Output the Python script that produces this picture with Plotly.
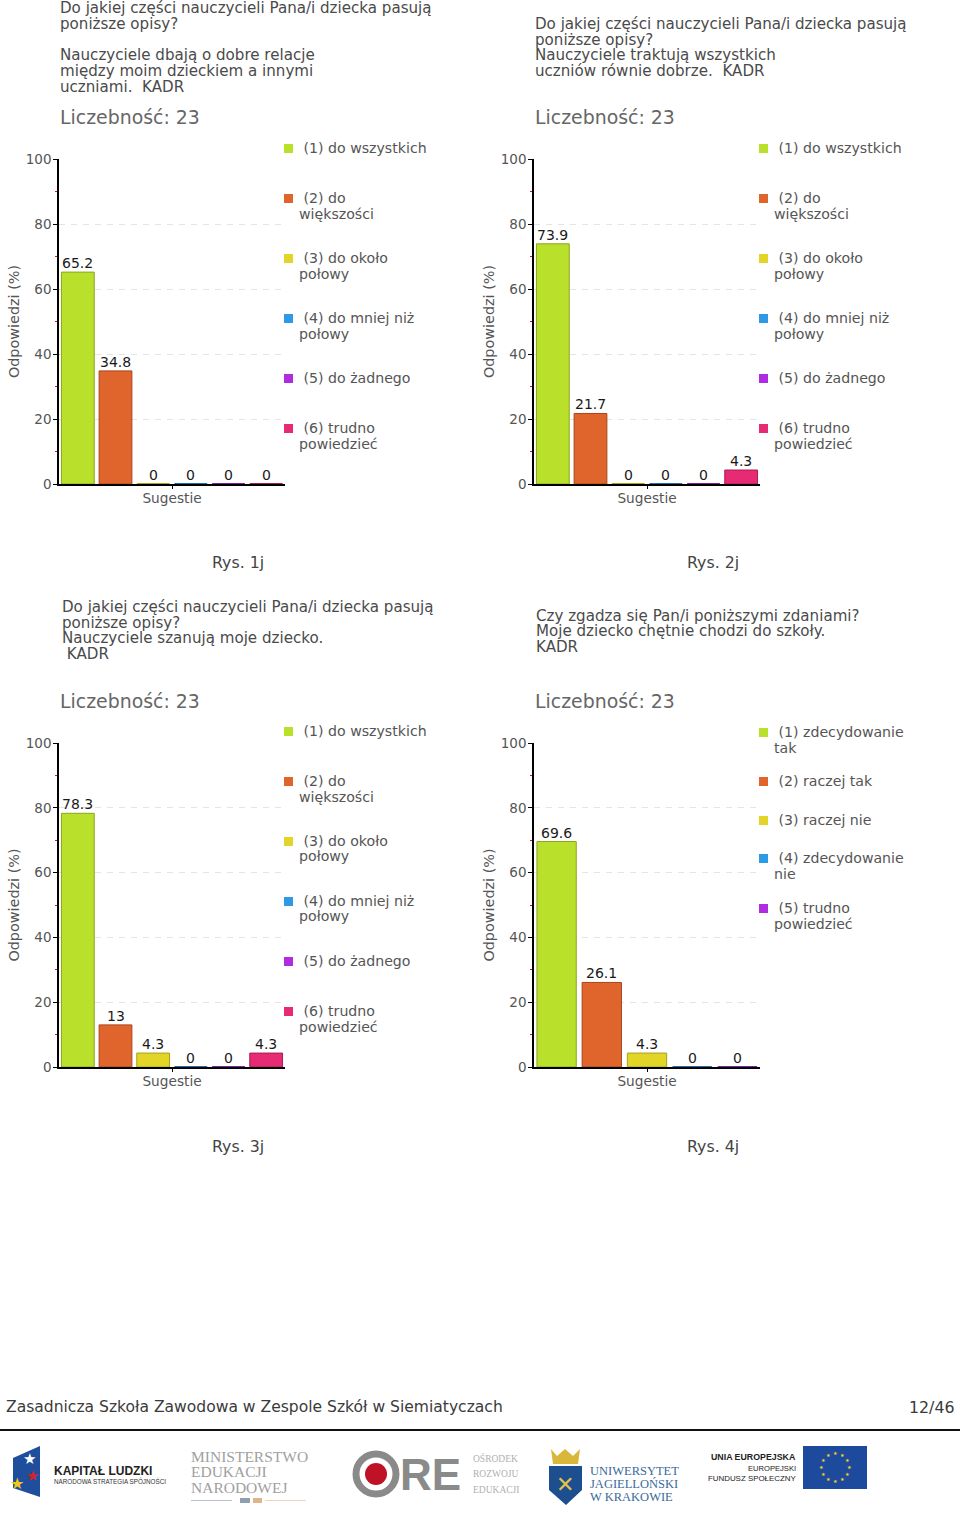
import plotly.graph_objects as go

W, H = 960, 1518
FONT = "DejaVu Sans"
TXT = "#555555"

# ---- data ----
values_1 = [65.2, 34.8, 0, 0, 0, 0]
values_2 = [73.9, 21.7, 0, 0, 0, 4.3]
values_3 = [78.3, 13, 4.3, 0, 0, 4.3]
values_4 = [69.6, 26.1, 4.3, 0, 0]

colors = ["#b9e02b", "#e0652d", "#e2d527", "#2e9ae6", "#b02ce0", "#e62a73"]
edges = ["#8ba51f", "#a8451c", "#a89f1c", "#1f70aa", "#7c1fa0", "#a81d52"]

legend_doc = [["\u00a0(1) do wszystkich"], ["\u00a0(2) do", "większości"],
              ["\u00a0(3) do około", "połowy"], ["\u00a0(4) do mniej niż", "połowy"],
              ["\u00a0(5) do żadnego"], ["\u00a0(6) trudno", "powiedzieć"]]
legend_agree = [["\u00a0(1) zdecydowanie", "tak"], ["\u00a0(2) raczej tak"], ["\u00a0(3) raczej nie"],
                ["\u00a0(4) zdecydowanie", "nie"], ["\u00a0(5) trudno", "powiedzieć"]]

q1 = [("Do jakiej części nauczycieli Pana/i dziecka pasują", 8), ("poniższe opisy?", 24),
      ("Nauczyciele dbają o dobre relacje", 55), ("między moim dzieckiem a innymi", 71),
      ("uczniami.  KADR", 87)]
q2 = [("Do jakiej części nauczycieli Pana/i dziecka pasują", 24), ("poniższe opisy?", 40),
      ("Nauczyciele traktują wszystkich", 55), ("uczniów równie dobrze.  KADR", 71)]
q3 = [("Do jakiej części nauczycieli Pana/i dziecka pasują", 607), ("poniższe opisy?", 623),
      ("Nauczyciele szanują moje dziecko.", 638), (" KADR", 654)]
q4 = [("Czy zgadza się Pan/i poniższymi zdaniami?", 616), ("Moje dziecko chętnie chodzi do szkoły.", 631),
      ("KADR", 647)]

count_label = "Liczebność: 23"
y_title = "Odpowiedzi (%)"
x_title = "Sugestie"

charts = [
    (values_1, legend_doc, [148, 198, 258, 318, 378, 428], 59, 159, 484, q1, 59, "Rys. 1j", 238, 563),
    (values_2, legend_doc, [148, 198, 258, 318, 378, 428], 534, 159, 484, q2, 534, "Rys. 2j", 713, 563),
    (values_3, legend_doc, [731, 781, 841, 901, 961, 1011], 59, 743, 1067, q3, 61, "Rys. 3j", 238, 1146),
    (values_4, legend_agree, [732, 781, 820, 858, 908], 534, 743, 1067, q4, 535, "Rys. 4j", 713, 1146),
]

fig = go.Figure()
ann, shp = [], []


def px(x):
    return x / W


def py(y):
    return 1 - y / H


def label(text, x, y, size=13, color=TXT, anchor="left", family=FONT, **kw):
    ann.append(dict(text=text, x=px(x), y=py(y), xref="paper", yref="paper", showarrow=False,
                    xanchor=anchor, yanchor="middle", align=anchor,
                    font=dict(size=size, color=color, family=family), borderpad=0, **kw))


def box(x0, y0, x1, y1, fill, line=None):
    shp.append(dict(type="rect", xref="paper", yref="paper", x0=px(x0), x1=px(x1), y0=py(y0), y1=py(y1),
                    fillcolor=fill, line=dict(width=0 if line is None else 1, color=line or fill), layer="above"))


def poly(points, fill):
    path = "M " + " L ".join(f"{px(a):.5f} {py(b):.5f}" for a, b in points) + " Z"
    shp.append(dict(type="path", xref="paper", yref="paper", path=path, fillcolor=fill, line=dict(width=0)))


AXIS_W = 226
for i, (vals, legend, leg_y, left, top, bottom, question, qx, cap, capx, capy) in enumerate(charts, start=1):
    n = len(vals)
    sx = "x" if i == 1 else f"x{i}"
    sy = "y" if i == 1 else f"y{i}"
    fig.add_trace(go.Bar(
        x=list(range(n)), y=vals, xaxis=sx, yaxis=sy, width=0.87,
        marker=dict(color=colors[:n], line=dict(color=edges[:n], width=[1 if v else 2 for v in vals])),
        cliponaxis=False, showlegend=False, hoverinfo="skip",
    ))
    for k, v in enumerate(vals):
        ann.append(dict(text=str(v), x=k, y=v, xref=sx, yref=sy, showarrow=False, xanchor="center",
                        yanchor="middle", yshift=9, font=dict(family=FONT, size=14, color="#1a1a1a")))
    fig.update_layout({
        ("xaxis" if i == 1 else f"xaxis{i}"): dict(
            domain=[px(left), px(left + AXIS_W)], range=[-0.5, n - 0.5], anchor=sy,
            tickvals=[(n - 1) / 2], ticktext=[x_title], ticks="outside", ticklen=3, tickcolor="black",
            ticklabelstandoff=-2, layer="below traces",
            showline=True, linecolor="black", linewidth=1.5, showgrid=False, zeroline=False,
            tickfont=dict(family=FONT, size=13.7, color=TXT), fixedrange=True),
        ("yaxis" if i == 1 else f"yaxis{i}"): dict(
            domain=[py(bottom), py(top)], range=[0, 100], anchor=sx, tickvals=[0, 20, 40, 60, 80, 100],
            ticks="outside", ticklen=4, tickcolor="black", showline=True, linecolor="black", linewidth=1.5,
            ticklabelstandoff=-1,
            showgrid=True, gridcolor="#e4e4e4", griddash="6px,6px", gridwidth=1, zeroline=False,
            tickfont=dict(family=FONT, size=13.5, color=TXT),
            minor=dict(tickvals=[10, 30, 50, 70, 90], ticks="outside", ticklen=2, tickcolor="#d01818", showgrid=False),
            title=dict(text=y_title, standoff=3, font=dict(family=FONT, size=14.4, color=TXT)),
            fixedrange=True),
    })
    for text, y in question:
        label(text, qx, y, size=15.1, color="#4a4a4a")
    label(count_label, left, top - 42, size=18.9, color="#666666")
    label(cap, capx, capy, size=15.8, color="#444444", anchor="center")
    for j, (lines, y0) in enumerate(zip(legend, leg_y)):
        box(left + 225, y0 - 4, left + 234, y0 + 5, colors[j])
        for k, line in enumerate(lines):
            label(line, left + 239, y0 + k * 15.5, size=14.15, color=TXT)

# ---- footer ----
label("Zasadnicza Szkoła Zawodowa w Zespole Szkół w Siemiatyczach", 5, 1407, size=15.55, color="#3a3a3a")
label("12/46", 956, 1407, size=15.8, color="#3a3a3a", anchor="right")
box(0, 1429, 960, 1431, "#111111")

# Kapitał Ludzki
poly([(13, 1458), (40, 1446), (40, 1497), (13, 1488)], "#1f4e9c")
label("★", 29, 1459, size=15, color="white", anchor="center")
label("★", 32, 1476, size=15, color="#d2232a", anchor="center")
label("★", 17, 1483, size=16, color="#f5c518", anchor="center")
label("<b>KAPITAŁ LUDZKI</b>", 53, 1471, size=12, color="#222222", family="Liberation Sans Narrow, Liberation Sans")
label("NARODOWA STRATEGIA SPÓJNOŚCI", 53, 1481, size=6.3, color="#333333", family="Liberation Sans Narrow, Liberation Sans")
# Ministerstwo
for t, y in [("MINISTERSTWO", 1456), ("EDUKACJI", 1471), ("NARODOWEJ", 1487)]:
    label(t, 190, y, size=15.5, color="#a0a0a0", family="Liberation Serif")
box(191, 1500, 232, 1501, "#b8c2cc")
box(265, 1500, 306, 1501, "#ecd6bc")
box(240, 1498, 250, 1503, "#8ea0b0")
box(253, 1498, 262, 1503, "#e0b48a")
# ORE
shp.append(dict(type="circle", xref="paper", yref="paper", x0=px(356), x1=px(396), y0=py(1494), y1=py(1454),
                fillcolor="white", line=dict(width=7, color="#8a8a8a")))
shp.append(dict(type="circle", xref="paper", yref="paper", x0=px(365), x1=px(387), y0=py(1485), y1=py(1463),
                fillcolor="#c01226", line=dict(width=0)))
label("<b>RE</b>", 399, 1474, size=44, color="#8a8a8a", family="Liberation Sans Narrow, Liberation Sans")
for t, y in [("OŚRODEK", 1458), ("ROZWOJU", 1474), ("EDUKACJI", 1490)]:
    label(t, 472, y, size=9.5, color="#b0b0b0", family="Liberation Serif")
# UJ
poly([(549, 1466), (582, 1466), (582, 1490), (566, 1505), (549, 1490)], "#1d4e8f")
poly([(551, 1449), (557, 1456), (565, 1449), (573, 1456), (580, 1449), (578, 1464), (553, 1464)], "#d9b73a")
label("✕", 565, 1484, size=22, color="#e3c34a", anchor="center")
for t, y in [("UNIWERSYTET", 1471), ("JAGIELLOŃSKI", 1484), ("W KRAKOWIE", 1497)]:
    label(t, 589, y, size=12.5, color="#3a6a9a", family="Liberation Serif")
# EU
label("<b>UNIA EUROPEJSKA</b>", 797, 1457, size=8.8, color="#222222", anchor="right", family="Liberation Sans Narrow, Liberation Sans")
label("EUROPEJSKI", 797, 1468, size=7.6, color="#222222", anchor="right", family="Liberation Sans Narrow, Liberation Sans")
label("FUNDUSZ SPOŁECZNY", 797, 1478, size=7.9, color="#222222", anchor="right", family="Liberation Sans Narrow, Liberation Sans")
box(803, 1446, 867, 1489, "#1d4a9c")
for dx, dy in [(0, -14), (7, -12), (12, -7), (14, 0), (12, 7), (7, 12), (0, 14), (-7, 12), (-12, 7), (-14, 0), (-12, -7), (-7, -12)]:
    label("★", 835 + dx, 1467 + dy, size=5, color="#f5d327", anchor="center")

fig.update_layout(width=W, height=H, margin=dict(l=0, r=0, t=0, b=0, autoexpand=False), paper_bgcolor="white",
                  plot_bgcolor="white", annotations=ann, shapes=shp, bargap=0.13,
                  font=dict(family=FONT))
fig.write_html("out.html", config=dict(displayModeBar=False),
               post_script="document.body.style.margin='0';")
